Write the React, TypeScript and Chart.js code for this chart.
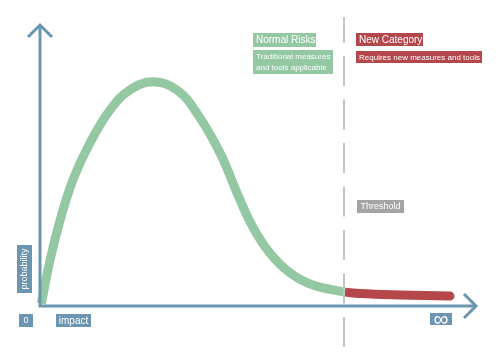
import React, { useEffect, useRef } from "react";
import { Chart, registerables } from "chart.js";

Chart.register(...registerables);

// Data (x: impact 0..100 where 100 = infinity; y: probability 0..100)
const normalX = [0.3, 2.3, 4.6, 7.5, 11.4, 16.0, 20.5, 25.8, 31.3, 35.8, 41.1, 45.0, 48.6, 52.5, 57.1, 62.3, 69.6];
const normalY = [0.8, 16.3, 30.4, 44.5, 57.6, 69.3, 76.3, 79.2, 76.3, 68.2, 54.1, 39.9, 27.9, 18.7, 11.7, 7.4, 4.9];
const newX = [69.6, 73.1, 82.2, 93.6];
const newY = [4.9, 4.4, 3.9, 3.5];
const threshold = 69.4;
const axisLabels = { y: "probability", origin: "0", x: "impact", end: "∞" };
const normalTitle = "Normal Risks";
const normalText = ["Traditional measures", "and tools applicable"];
const newTitle = "New Category";
const newText = ["Requires new measures and tools"];
const thresholdLabel = "Threshold";

const GREEN = "#93c8a2";
const GREEN_BOX = "#93c8a2";
const RED = "#b5474a";
const RED_BOX = "#b3474b";
const AXIS = "#6b95b0";
const GRAY = "#a4a4a4";
const DASH = "#c4c4c4";
const FONT = "'Liberation Sans', Arial, sans-serif";

function box(
  ctx: CanvasRenderingContext2D,
  lines: string[],
  x: number,
  y: number,
  w: number,
  h: number,
  bg: string,
  size: number,
  lineH: number,
  align: "left" | "center" = "left",
  dy = 0
) {
  ctx.fillStyle = bg;
  ctx.fillRect(x, y, w, h);
  ctx.fillStyle = "#ffffff";
  ctx.font = `${size}px ${FONT}`;
  ctx.textBaseline = "middle";
  ctx.textAlign = align;
  const total = lineH * lines.length;
  const startY = y + h / 2 - total / 2 + lineH / 2;
  lines.forEach((t, i) => {
    const tx = align === "left" ? x + 3 : x + w / 2;
    ctx.fillText(t, tx, startY + i * lineH + 0.5 + dy);
  });
}

const overlay = {
  id: "overlay",
  afterDatasetsDraw(chart: any) {
    const { ctx, scales } = chart;
    const xs = scales.x;
    const ys = scales.y;
    const x0 = xs.getPixelForValue(0);
    const y0 = ys.getPixelForValue(0);
    const xEnd = xs.getPixelForValue(100);
    const yEnd = ys.getPixelForValue(100);
    const tx = Math.round(xs.getPixelForValue(threshold));
    ctx.save();

    // threshold dashed line
    ctx.strokeStyle = DASH;
    ctx.lineWidth = 2;
    ctx.setLineDash([30, 13.5]);
    ctx.beginPath();
    ctx.moveTo(tx, 347);
    ctx.lineTo(tx, 17);
    ctx.stroke();
    ctx.setLineDash([]);

    // axes
    ctx.strokeStyle = AXIS;
    ctx.lineWidth = 3;
    ctx.lineCap = "butt";
    ctx.beginPath();
    ctx.moveTo(x0, y0 + 1.5);
    ctx.lineTo(x0, yEnd + 2);
    ctx.moveTo(x0 - 1.5, y0);
    ctx.lineTo(xEnd - 2, y0);
    ctx.stroke();
    ctx.lineJoin = "miter";
    ctx.beginPath();
    ctx.moveTo(x0 - 12, yEnd + 14);
    ctx.lineTo(x0, yEnd + 2);
    ctx.lineTo(x0 + 12, yEnd + 14);
    ctx.stroke();
    ctx.beginPath();
    ctx.moveTo(xEnd - 14, y0 - 12);
    ctx.lineTo(xEnd - 2, y0);
    ctx.lineTo(xEnd - 14, y0 + 12);
    ctx.stroke();

    // annotation boxes
    box(ctx, [normalTitle], tx - 91, 33, 63, 14, GREEN_BOX, 10, 12);
    box(ctx, normalText, tx - 91, 50, 80, 24, GREEN_BOX, 8, 11);
    box(ctx, [newTitle], tx + 12, 33, 67, 13, RED_BOX, 10, 12);
    box(ctx, newText, tx + 12, 51, 126, 12, RED_BOX, 8, 11);
    box(ctx, [thresholdLabel], tx + 13, 200, 47, 13, GRAY, 9, 11, "center");

    // axis labels
    box(ctx, [axisLabels.origin], 19, 314, 14, 13, AXIS, 9, 11, "center");
    box(ctx, [axisLabels.x], 56, 314, 35, 13, AXIS, 10, 11, "center");
    box(ctx, [axisLabels.end], 430, 313, 22, 12, AXIS, 21, 12, "center", 0.5);

    // rotated y label
    ctx.save();
    ctx.translate(17 + 7.5, 245 + 24);
    ctx.rotate(-Math.PI / 2);
    box(ctx, [axisLabels.y], -24, -7.5, 48, 15, AXIS, 9, 11, "center");
    ctx.restore();

    ctx.restore();
  },
};

export default function App() {
  const ref = useRef<HTMLCanvasElement | null>(null);
  useEffect(() => {
    document.body.style.margin = "0";
    const canvas = ref.current;
    if (!canvas) return;
    const chart = new Chart(canvas, {
      type: "line",
      data: {
        datasets: [
          {
            label: "Normal Risks",
            data: normalX.map((x, i) => ({ x, y: normalY[i] })),
            borderColor: GREEN,
            borderWidth: 9,
            pointRadius: 0,
            tension: 0.4,
            borderCapStyle: "butt",
            clip: false,
          } as any,
          {
            label: "New Category",
            data: newX.map((x, i) => ({ x, y: newY[i] })),
            borderColor: RED,
            borderWidth: 9,
            pointRadius: 0,
            tension: 0.4,
            borderCapStyle: "round",
            clip: false,
          } as any,
        ],
      },
      options: {
        animation: false,
        responsive: false,
        maintainAspectRatio: false,
        layout: { padding: { left: 40, right: 22, top: 23, bottom: 48 } },
        scales: {
          x: { type: "linear", min: 0, max: 100, display: false },
          y: { type: "linear", min: 0, max: 100, display: false },
        },
        plugins: {
          legend: { display: false },
          tooltip: { enabled: false },
        },
      },
      plugins: [overlay],
    });
    return () => chart.destroy();
  }, []);
  return (
    <div style={{ width: 500, height: 354, background: "#ffffff" }}>
      <canvas ref={ref} width={500} height={354} />
    </div>
  );
}
